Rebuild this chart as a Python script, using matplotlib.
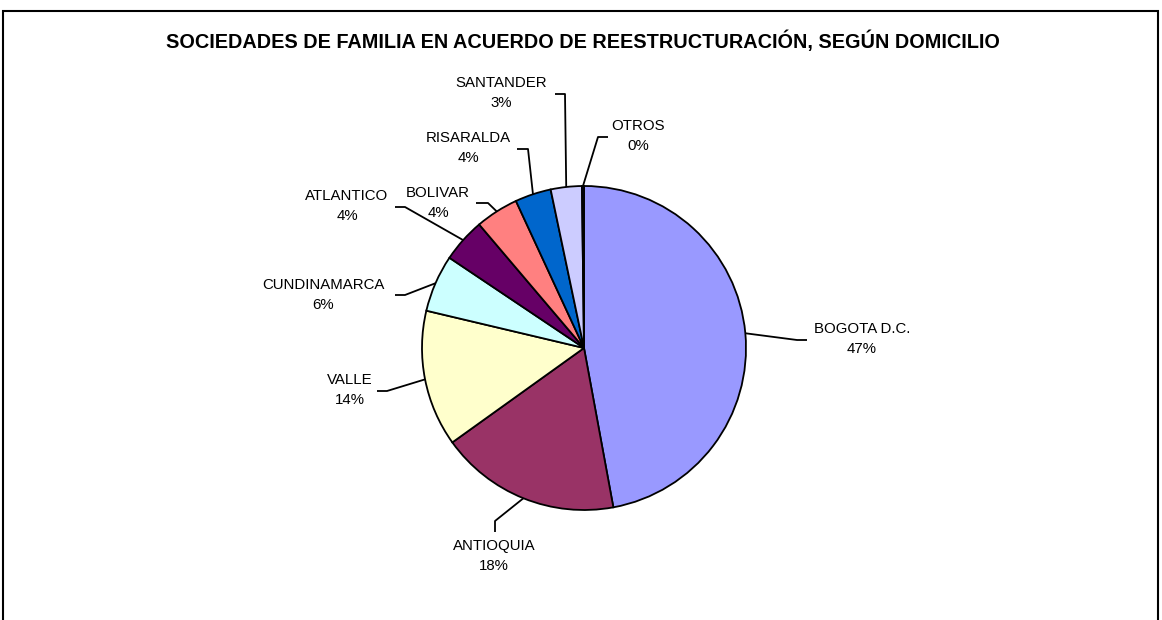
import numpy as np
import matplotlib.pyplot as plt
from matplotlib.patches import Rectangle

plt.rcParams['font.family'] = ['Liberation Sans', 'DejaVu Sans']

# data
labels = ['BOGOTA D.C.', 'ANTIOQUIA', 'VALLE', 'CUNDINAMARCA', 'ATLANTICO',
          'BOLIVAR', 'RISARALDA', 'SANTANDER', 'OTROS']
values = [47.1, 18.0, 13.6, 5.7, 4.4, 4.3, 3.6, 3.1, 0.2]
pct_text = ['47%', '18%', '14%', '6%', '4%', '4%', '4%', '3%', '0%']
colors = ['#9999FF', '#993366', '#FFFFCC', '#CCFFFF', '#660066',
          '#FF8080', '#0066CC', '#CCCCFF', '#000080']

# layout (pixels, origin top-left): label centre and leader elbow/end
label_pos = [(862, 339), (494, 556), (350, 390), (323, 295), (347, 206),
             (438, 203), (468, 148), (501, 93), (638, 136)]
elbow = [(797, 340), (495, 521), (387, 391), (405, 295), (405, 207),
         (488, 203), (528, 149), (565, 94), (598, 137)]
stub = [(807, 340), (495, 532), (377, 391), (395, 295), (395, 207),
        (476, 203), (517, 149), (555, 94), (608, 137)]

W, H = 1162, 620
cx, cy, R = 584, 348, 162

fig = plt.figure(figsize=(W / 100, H / 100), dpi=100)
ax = fig.add_axes([0, 0, 1, 1])

def py(y):
    return H - y

wedges, _ = ax.pie(values, colors=colors, startangle=90, counterclock=False,
                   center=(cx, py(cy)), radius=R,
                   wedgeprops=dict(edgecolor='black', linewidth=1.3))
ax.set_xlim(0, W)
ax.set_ylim(0, H)
ax.set_aspect('equal')
ax.axis('off')

for w, lab, pct, lp, el, st in zip(wedges, labels, pct_text, label_pos, elbow, stub):
    ang = np.deg2rad((w.theta1 + w.theta2) / 2)
    x0 = cx + R * np.cos(ang)
    y0 = py(cy) + R * np.sin(ang)
    ax.plot([x0, el[0], st[0]], [y0, py(el[1]), py(st[1])], color='black',
            linewidth=1.3, solid_capstyle='butt')
    ax.text(lp[0], py(lp[1]), lab + '\n' + pct, ha='center', va='center',
            fontsize=10.8, linespacing=1.5)

ax.text(583, py(48), 'SOCIEDADES DE FAMILIA EN ACUERDO DE REESTRUCTURACIÓN, SEGÚN DOMICILIO',
        ha='center', va='baseline', fontsize=14.3, fontweight='bold')

fig.patches.append(Rectangle((3 / W, -0.05), 1155 / W, (H - 11) / H + 0.05,
                             transform=fig.transFigure, fill=False,
                             edgecolor='black', linewidth=1.5))

fig.savefig('out.png', dpi=100)
